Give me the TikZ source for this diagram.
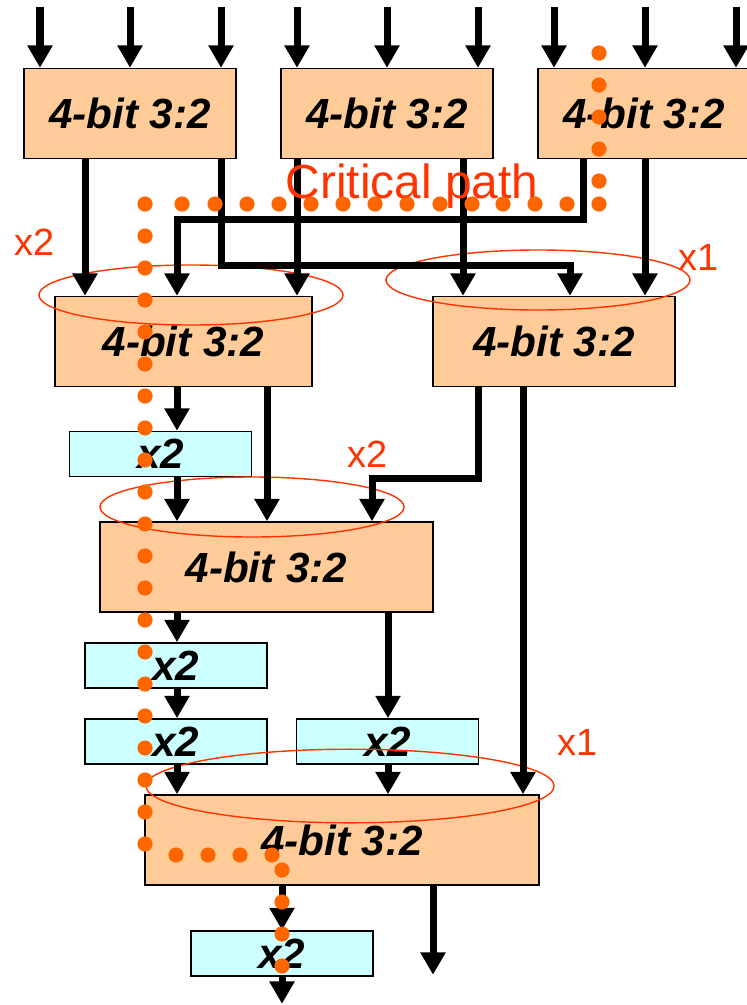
\documentclass[tikz,border=0pt]{standalone}
\usepackage{fontspec}
\setmainfont{Liberation Sans}
\usepackage{tikz}
\usetikzlibrary{arrows.meta}
\tikzset{>={Triangle[length=0.56cm,width=0.6cm]}}
\definecolor{csafill}{HTML}{FFCC99}
\definecolor{shfill}{HTML}{CCFFFF}
\definecolor{pathred}{HTML}{FF3300}
\definecolor{pathdot}{HTML}{FF6600}
\tikzstyle{csa} = [rectangle, minimum height=2.25cm, inner sep=0pt, text centered, draw=black, line width=1pt, fill=csafill, font=\fontsize{30}{36}\selectfont\bfseries\itshape]
\tikzstyle{shifter} = [rectangle, minimum width=4.55cm, minimum height=1.13cm, inner sep=0pt, text centered, draw=black, line width=1pt, fill=shfill, font=\fontsize{30}{36}\selectfont\bfseries\itshape]
\tikzstyle{arrow} = [line width=0.175cm, ->]
\tikzstyle{note} = [text=pathred, anchor=base, inner sep=0pt, font=\fontsize{27}{32}\selectfont]
\tikzstyle{group} = [draw=pathred, line width=1pt]
\tikzstyle{cpdot} = [fill=pathdot]

\begin{document}
\begin{tikzpicture}[x=0.025cm, y=-0.025cm]
\useasboundingbox (0,0) rectangle (747,1005);
\node (csa1) [csa, minimum width=5.3cm] at (130,113.5) {4-bit 3:2};
\node (csa2) [csa, minimum width=5.3cm] at (387,113.5) {4-bit 3:2};
\node (csa3) [csa, minimum width=5.3cm] at (644,113.5) {4-bit 3:2};
\node (csa4) [csa, minimum width=6.425cm] at (183.5,341.5) {4-bit 3:2};
\node (csa5) [csa, minimum width=6.05cm] at (554,341.5) {4-bit 3:2};
\node (csa6) [csa, minimum width=8.325cm] at (266.5,567) {4-bit 3:2};
\node (csa7) [csa, minimum width=9.85cm] at (342,840) {4-bit 3:2};
\node (sh1) [shifter] at (160.5,454) {x2};
\node (sh2) [shifter] at (176,665.5) {x2};
\node (sh3) [shifter] at (176,741.5) {x2};
\node (sh4) [shifter] at (387.5,741.5) {x2};
\node (sh5) [shifter] at (282,953.5) {x2};

\draw[group] (191,295) ellipse [x radius=3.8cm, y radius=0.75cm];
\draw[group] (538,280) ellipse [x radius=3.8cm, y radius=0.75cm];
\draw[group] (252,507) ellipse [x radius=3.8cm, y radius=0.75cm];
\draw[group] (350,786) ellipse [x radius=5.1cm, y radius=0.92cm];

\foreach \c/\px in {csa1/40, csa1/130, csa1/221, csa2/297, csa2/387, csa2/478, csa3/554, csa3/645, csa3/736}
  \draw[arrow, <-] (\c.north -| \px,0) -- ++(0,-61);

\draw[arrow] (csa1.south -| 85,0) -- (csa4.north -| 85,0);
\draw[arrow] (csa2.south -| 297,0) -- (csa4.north -| 297,0);
\draw[arrow] (csa2.south -| 463,0) -- (csa5.north -| 463,0);
\draw[arrow] (csa3.south -| 645,0) -- (csa5.north -| 645,0);
\draw[arrow] (csa1.south -| 221,0) -- ++(0,106) -| (csa5.north -| 570,0);
\draw[arrow] (csa3.south -| 583,0) -- ++(0,60) -| (csa4.north -| 177,0);
\draw[arrow] (csa4.south -| 177,0) -- (sh1.north -| 177,0);
\draw[arrow] (csa4.south -| 267,0) -- (csa6.north -| 267,0);
\draw[arrow] (sh1.south -| 177,0) -- (csa6.north -| 177,0);
\draw[arrow] (csa5.south -| 478,0) -- ++(0,91) -| (csa6.north -| 372,0);
\draw[arrow] (csa5.south -| 523,0) -- (csa7.north -| 523,0);
\draw[arrow] (csa6.south -| 177,0) -- (sh2.north -| 177,0);
\draw[arrow] (csa6.south -| 388,0) -- (sh4.north -| 388,0);
\draw[arrow] (sh2.south -| 177,0) -- (sh3.north -| 177,0);
\draw[arrow] (sh3.south -| 177,0) -- (csa7.north -| 177,0);
\draw[arrow] (sh4.south -| 388,0) -- (csa7.north -| 388,0);
\draw[arrow] (csa7.south -| 282,0) -- (sh5.north -| 282,0);
\draw[arrow] (csa7.south -| 433,0) -- ++(0,89);
\draw[arrow] (sh5.south -| 282,0) -- ++(0,27);

\node (lbl1) [note] at (35,255) {x2};
\node (lbl2) [note] at (699,270) {x1};
\node (lbl3) [note] at (368,467) {x2};
\node (lbl4) [note] at (578,755) {x1};
\node (crit) [note, font=\fontsize{34}{40}\selectfont] at (412,198) {Critical path};

\foreach \px/\py in {599/53, 599/85, 599/117, 599/149, 599/181, 599/204,
  567/204, 535/204, 503/204, 472/204, 440/204, 407/204, 375/204, 343/204,
  311/204, 279/204, 247/204, 215/204, 182/204, 145/204,
  145/236, 145/268, 145/300, 145/332, 145/364, 145/396, 145/428, 145/460,
  145/492, 145/524, 145/556, 145/588, 145/620, 145/652, 145/684, 145/716,
  145/748, 145/780, 145/812, 145/844,
  176/855, 208/855, 240/855, 272/855, 282/870, 282/902, 282/934, 282/966}
  \fill[cpdot] (\px,\py) circle[radius=0.19cm];
\end{tikzpicture}
\end{document}
